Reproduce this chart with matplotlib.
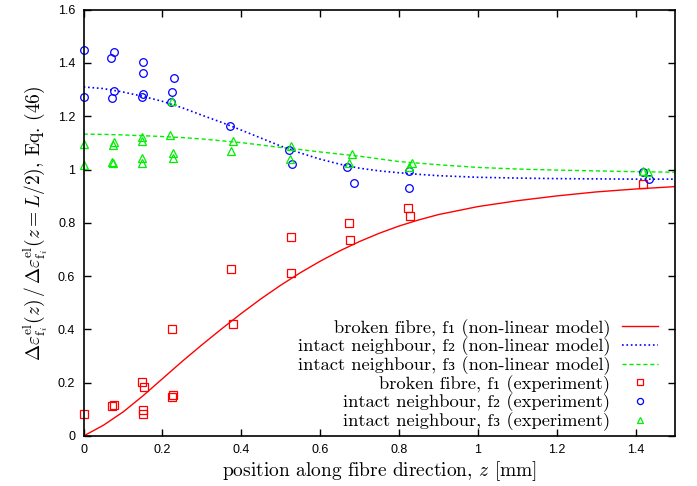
import numpy as np
import matplotlib
matplotlib.use("Agg")
import matplotlib.pyplot as plt

plt.rcParams['mathtext.fontset'] = 'cm'
plt.rcParams['font.family'] = ['cmr10', 'DejaVu Serif']
plt.rcParams['axes.formatter.use_mathtext'] = True

# model curves
z_model = [0.0, 0.05, 0.1, 0.15, 0.2, 0.25, 0.3, 0.35, 0.4, 0.45, 0.5, 0.55, 0.6, 0.65,
           0.7, 0.75, 0.8, 0.85, 0.9, 1.0, 1.1, 1.2, 1.3, 1.4, 1.5]
f1_model = [0.0, 0.04, 0.09, 0.15, 0.215, 0.28, 0.342, 0.402, 0.46, 0.515, 0.566, 0.613,
            0.656, 0.695, 0.73, 0.761, 0.788, 0.811, 0.831, 0.861, 0.883, 0.901, 0.916,
            0.927, 0.936]
f2_model = [1.31, 1.304, 1.291, 1.275, 1.256, 1.232, 1.204, 1.177, 1.148, 1.118, 1.088,
            1.062, 1.039, 1.02, 1.005, 0.995, 0.988, 0.982, 0.977, 0.971, 0.968, 0.966,
            0.965, 0.964, 0.964]
f3_model = [1.133, 1.132, 1.13, 1.127, 1.124, 1.12, 1.115, 1.108, 1.101, 1.092, 1.083,
            1.075, 1.066, 1.058, 1.05, 1.04, 1.03, 1.024, 1.018, 1.008, 1.002, 0.998,
            0.995, 0.992, 0.99]

# experiment
z_f1 = [0.0, 0.073, 0.077, 0.149, 0.153, 0.150, 0.150, 0.225, 0.224, 0.227, 0.375, 0.378,
        0.525, 0.526, 0.674, 0.676, 0.823, 0.827, 1.419]
v_f1 = [0.082, 0.112, 0.116, 0.202, 0.185, 0.099, 0.082, 0.402, 0.147, 0.152, 0.626, 0.421,
        0.747, 0.611, 0.801, 0.737, 0.855, 0.825, 0.945]

z_f2 = [0.0, 0.0, 0.069, 0.077, 0.077, 0.073, 0.151, 0.151, 0.150, 0.148, 0.228, 0.224,
        0.222, 0.372, 0.520, 0.529, 0.667, 0.685, 0.824, 0.826, 1.419, 1.434]
v_f2 = [1.450, 1.274, 1.418, 1.441, 1.296, 1.270, 1.404, 1.361, 1.283, 1.274, 1.343, 1.291,
        1.252, 1.164, 1.074, 1.019, 1.009, 0.951, 0.994, 0.931, 0.990, 0.964]

z_f3 = [0.0, 0.0, 0.076, 0.075, 0.073, 0.075, 0.149, 0.149, 0.149, 0.149, 0.220, 0.225,
        0.226, 0.226, 0.378, 0.375, 0.527, 0.524, 0.680, 0.674, 0.832, 0.826, 1.419, 1.432]
v_f3 = [1.096, 1.018, 1.102, 1.093, 1.027, 1.024, 1.124, 1.109, 1.043, 1.024, 1.131, 1.258,
        1.062, 1.045, 1.109, 1.068, 1.087, 1.040, 1.059, 1.024, 1.024, 1.011, 0.993, 0.992]

labels = ['broken fibre, f₁ (non-linear model)',
          'intact neighbour, f₂ (non-linear model)',
          'intact neighbour, f₃ (non-linear model)',
          'broken fibre, f₁ (experiment)',
          'intact neighbour, f₂ (experiment)',
          'intact neighbour, f₃ (experiment)']

xticks = [0, 0.2, 0.4, 0.6, 0.8, 1, 1.2, 1.4]
yticks = [0, 0.2, 0.4, 0.6, 0.8, 1, 1.2, 1.4, 1.6]

fig = plt.figure(figsize=(6.97, 4.86), dpi=100)
ax = fig.add_axes([0.120, 0.103, 0.8485, 0.877])

ax.plot(z_model, f1_model, '-', color='#ff0000', lw=1.0, label=labels[0])
ax.plot(z_model, f2_model, ':', color='#0000ff', lw=1.2, label=labels[1])
ax.plot(z_model, f3_model, '--', color='#00ee00', lw=1.0, dashes=(3, 2), label=labels[2])
ax.plot(z_f1, v_f1, 's', mfc='none', mec='#ff0000', ms=5.5, mew=0.9, clip_on=False,
        label=labels[3])
ax.plot(z_f2, v_f2, 'o', mfc='none', mec='#0000ff', ms=5.5, mew=0.9, clip_on=False,
        label=labels[4])
ax.plot(z_f3, v_f3, '^', mfc='none', mec='#00ee00', ms=5.5, mew=0.9, clip_on=False,
        label=labels[5])

ax.set_xlim(0, 1.5)
ax.set_ylim(0, 1.6)
ax.set_xticks(xticks)
ax.set_yticks(yticks)
ax.set_xticklabels([f'{t:g}' for t in xticks], family='Liberation Sans', fontsize=9)
ax.set_yticklabels([f'{t:g}' for t in yticks], family='Liberation Sans', fontsize=9)
ax.tick_params(direction='in', length=5, width=1, top=True, right=True, pad=6)
for s in ax.spines.values():
    s.set_linewidth(1.2)

ax.set_xlabel(r'position along fibre direction, $z$ [mm]', fontsize=14, labelpad=2)
ax.set_ylabel(r'$\Delta\varepsilon^{\rm el}_{{\rm f}_i}(z)\,/\,\Delta\varepsilon^{\rm el}_{{\rm f}_i}(z=L/2)$, Eq. (46)',
              fontsize=14, labelpad=6)

leg = ax.legend(loc='lower right', bbox_to_anchor=(0.972, 0.012), markerfirst=False,
                frameon=False, fontsize=13.3, handlelength=2.0, labelspacing=0.0,
                borderaxespad=0, borderpad=0, handletextpad=0.6, markerscale=0.8)
for t in leg.get_texts():
    t.set_ha('right')

fig.savefig('out.png', dpi=100)
